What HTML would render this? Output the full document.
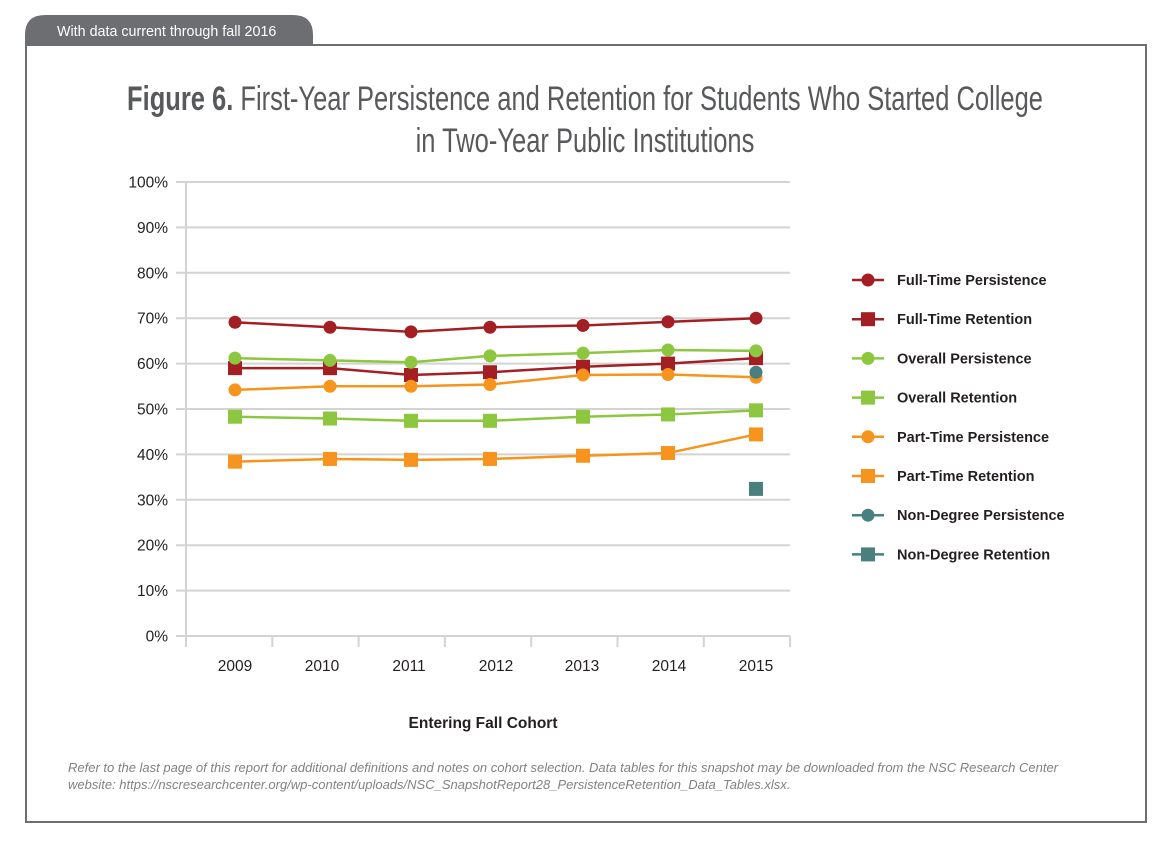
<!DOCTYPE html>
<html><head><meta charset="utf-8"><style>
body{margin:0;background:#fff;width:1171px;height:840px;overflow:hidden;font-family:"Liberation Sans",sans-serif}
</style></head><body>
<svg width="1171" height="840" xmlns="http://www.w3.org/2000/svg" font-family="Liberation Sans, sans-serif">
<path d="M25,45 V35 Q25,15 45,15 H293 Q313,15 313,35 V45 Z" fill="#6d6e71"/>
<text x="57" y="36" font-size="14.3" fill="#fff">With data current through fall 2016</text>
<rect x="26" y="45" width="1120" height="777" fill="none" stroke="#6d6e71" stroke-width="2"/>
<g fill="#58595b">
<text x="585" y="110" font-size="34" text-anchor="middle" transform="translate(585,0) scale(0.75,1) translate(-585,0)"><tspan font-weight="bold">Figure 6.</tspan> First-Year Persistence and Retention for Students Who Started College</text>
<text x="585" y="152" font-size="34" text-anchor="middle" transform="translate(585,0) scale(0.75,1) translate(-585,0)">in Two-Year Public Institutions</text>
</g>
<g id="grid" stroke="#d3d3d3" stroke-width="2"></g>
<g id="yl" font-size="15.5" fill="#231f20" text-anchor="end"></g>
<g id="xl" font-size="15.5" fill="#231f20" text-anchor="middle"></g>
<g id="series"></g>
<g id="leg" font-weight="bold" font-size="14.5" fill="#231f20"></g>
<text x="483" y="728" font-size="15.5" font-weight="bold" text-anchor="middle" fill="#231f20">Entering Fall Cohort</text>
<text x="68" y="772" font-size="13" font-style="italic" fill="#808285">Refer to the last page of this report for additional definitions and notes on cohort selection. Data tables for this snapshot may be downloaded from the NSC Research Center</text>
<text x="68" y="789" font-size="13" font-style="italic" fill="#808285">website: https://nscresearchcenter.org/wp-content/uploads/NSC_SnapshotReport28_PersistenceRetention_Data_Tables.xlsx.</text>
</svg>
<script>
const NS="http://www.w3.org/2000/svg";
function el(p,t,a,txt){const e=document.createElementNS(NS,t);for(const k in a)e.setAttribute(k,a[k]);if(txt)e.textContent=txt;document.getElementById(p).appendChild(e);return e;}
const Y=v=>636-4.54*v;
for(let i=0;i<=10;i++){const y=Y(i*10);el("grid","line",{x1:176,x2:790,y1:y,y2:y});el("yl","text",{x:168,y:y+5.5},(i*10)+"%");}
el("grid","line",{x1:186,x2:186,y1:182,y2:636});
for(let i=0;i<8;i++){const x=186+i*86.3;el("grid","line",{x1:x,x2:x,y1:636,y2:647});}
const LX=[235,322,409,496,582,669,756];
LX.forEach((x,i)=>el("xl","text",{x:x,y:671},2009+i));
const PX=[235,330,411,490,583,668,756];
const S=[
["#a31f24","c",[69.1,68,67,68,68.4,69.2,70],"Full-Time Persistence"],
["#a31f24","s",[59,59,57.5,58.1,59.3,60,61.2],"Full-Time Retention"],
["#8dc63f","c",[61.2,60.7,60.3,61.7,62.3,63,62.8],"Overall Persistence"],
["#8dc63f","s",[48.3,47.9,47.4,47.4,48.3,48.8,49.7],"Overall Retention"],
["#f7941d","c",[54.2,55,55,55.4,57.5,57.6,57],"Part-Time Persistence"],
["#f7941d","s",[38.4,39,38.8,39,39.7,40.3,44.4],"Part-Time Retention"],
["#4a7f80","c",[null,null,null,null,null,null,58.1],"Non-Degree Persistence"],
["#4a7f80","s",[null,null,null,null,null,null,32.4],"Non-Degree Retention"]];
function mk(p,t,x,y,c){if(t=="c")el(p,"circle",{cx:x,cy:y,r:6.5,fill:c});else el(p,"rect",{x:x-7,y:y-7,width:14,height:14,fill:c});}
S.forEach((s,k)=>{const pts=[];s[2].forEach((v,i)=>{if(v!=null)pts.push(PX[i]+","+Y(v));});
if(pts.length>1)el("series","polyline",{points:pts.join(" "),fill:"none",stroke:s[0],"stroke-width":2.5});
s[2].forEach((v,i)=>{if(v!=null)mk("series",s[1],PX[i],Y(v),s[0]);});
const ly=280+k*39.2;el("leg","line",{x1:852,x2:884,y1:ly,y2:ly,stroke:s[0],"stroke-width":2.5});mk("leg",s[1],868,ly,s[0]);
el("leg","text",{x:897,y:ly+5},s[3]);});
</script>
</body></html>
